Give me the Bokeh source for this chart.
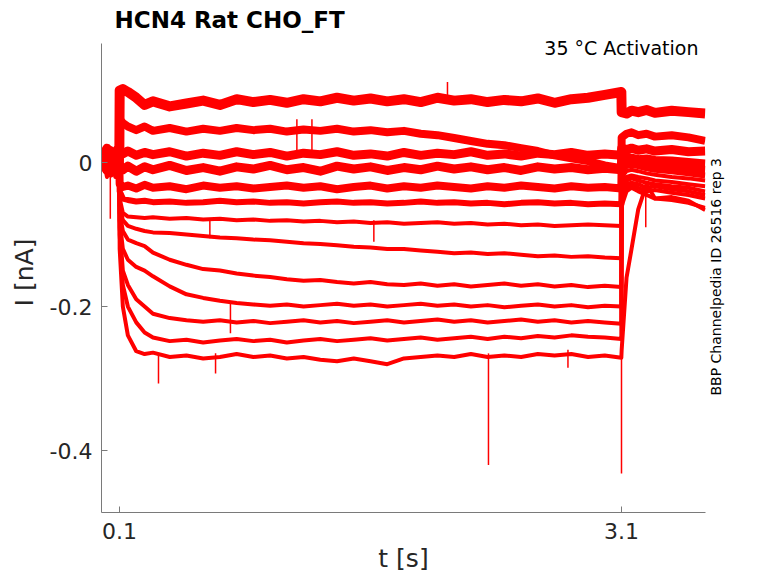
import math
from bokeh.plotting import figure
from bokeh.models import Range1d, FixedTicker, Label, LinearAxis, ColumnDataSource
from bokeh.embed import file_html
from bokeh.resources import INLINE

# time grid (s)
t = [0.0, 0.025, 0.05, 0.075, 0.099,
     0.101, 0.12, 0.15, 0.2, 0.25, 0.3,
     0.4, 0.5, 0.6, 0.7, 0.8, 0.9, 1.0, 1.1, 1.2, 1.3, 1.4, 1.5, 1.6, 1.7,
     1.8, 1.9, 2.0, 2.1, 2.2, 2.3, 2.4, 2.5, 2.6, 2.7, 2.8, 2.9, 3.0,
     3.099,
     3.101, 3.13, 3.16, 3.2, 3.25, 3.3, 3.4, 3.5, 3.6]

# current traces (nA), bottom to top
trace_01 = [0.01, -0.02, 0.0, 0.02, -0.01,
            -0.12, -0.20, -0.24, -0.262, -0.266, -0.264,
            -0.27, -0.268, -0.272, -0.27, -0.266, -0.27, -0.268, -0.272, -0.27, -0.274,
            -0.276, -0.272, -0.276, -0.28, -0.272, -0.27, -0.268, -0.27, -0.266, -0.27,
            -0.268, -0.27, -0.266, -0.268, -0.266, -0.27, -0.268,
            -0.271,
            -0.26, -0.16, -0.12, -0.065, -0.03, -0.05, -0.048, -0.053, -0.066]
trace_02 = [-0.01, 0.01, 0.02, -0.02, 0.0,
            -0.10, -0.17, -0.20, -0.222, -0.236, -0.243,
            -0.248, -0.246, -0.25, -0.247, -0.245, -0.248, -0.246, -0.25, -0.247, -0.245,
            -0.248, -0.246, -0.244, -0.247, -0.245, -0.243, -0.246, -0.244, -0.242, -0.245,
            -0.242, -0.244, -0.241, -0.243, -0.24, -0.242, -0.243,
            -0.245,
            -0.06, -0.04, -0.035, -0.04, -0.045, -0.05, -0.052, -0.056, -0.063]
trace_03 = [0.0, -0.01, 0.015, 0.0, 0.01,
            -0.09, -0.15, -0.17, -0.19, -0.2, -0.21,
            -0.216, -0.219, -0.221, -0.219, -0.222, -0.22, -0.223, -0.221, -0.219, -0.222,
            -0.22, -0.223, -0.221, -0.219, -0.222, -0.22, -0.218, -0.221, -0.219, -0.222,
            -0.22, -0.218, -0.221, -0.219, -0.222, -0.22, -0.222,
            -0.224,
            -0.05, -0.035, -0.03, -0.035, -0.04, -0.038, -0.042, -0.045, -0.05]
trace_04 = [0.01, 0.0, -0.015, 0.01, 0.0,
            -0.08, -0.12, -0.135, -0.145, -0.15, -0.158,
            -0.172, -0.183, -0.188, -0.192, -0.195, -0.197, -0.199, -0.197, -0.2, -0.198,
            -0.196, -0.199, -0.197, -0.2, -0.198, -0.196, -0.199, -0.197, -0.2, -0.198,
            -0.201, -0.199, -0.197, -0.2, -0.198, -0.201, -0.199,
            -0.2,
            -0.045, -0.03, -0.028, -0.03, -0.035, -0.033, -0.037, -0.04, -0.045]
trace_05 = [-0.005, 0.01, 0.0, -0.01, 0.015,
            -0.07, -0.095, -0.107, -0.112, -0.116, -0.125,
            -0.135, -0.142, -0.148, -0.15, -0.154, -0.157, -0.159, -0.162, -0.164, -0.163,
            -0.166, -0.168, -0.166, -0.169, -0.17, -0.168, -0.171, -0.169, -0.172, -0.17,
            -0.168, -0.171, -0.169, -0.172, -0.17, -0.173, -0.171,
            -0.173,
            -0.04, -0.025, -0.022, -0.025, -0.028, -0.03, -0.033, -0.035, -0.04]
trace_06 = [0.005, -0.01, 0.01, 0.0, -0.005,
            -0.06, -0.08, -0.088, -0.092, -0.095, -0.097,
            -0.098, -0.1, -0.102, -0.104, -0.105, -0.107, -0.108, -0.11, -0.112, -0.113,
            -0.115, -0.117, -0.118, -0.12, -0.12, -0.122, -0.124, -0.126, -0.125, -0.127,
            -0.126, -0.128, -0.13, -0.129, -0.131, -0.13, -0.132,
            -0.133,
            -0.03, -0.02, -0.018, -0.02, -0.022, -0.025, -0.027, -0.03, -0.033]
trace_07 = [0.0, 0.015, -0.01, 0.005, 0.0,
            -0.05, -0.07, -0.075, -0.076, -0.077, -0.076,
            -0.078, -0.077, -0.079, -0.078, -0.08, -0.079, -0.081, -0.08, -0.082, -0.081,
            -0.083, -0.082, -0.084, -0.083, -0.085, -0.084, -0.083, -0.085, -0.084, -0.086,
            -0.085, -0.087, -0.086, -0.088, -0.087, -0.086, -0.087,
            -0.088,
            -0.02, -0.012, -0.01, -0.012, -0.015, -0.017, -0.02, -0.022, -0.025]
trace_08 = [0.01, 0.0, 0.005, -0.01, 0.005,
            -0.04, -0.05, -0.052, -0.054, -0.053, -0.055,
            -0.054, -0.056, -0.055, -0.053, -0.055, -0.054, -0.056, -0.055, -0.057, -0.055,
            -0.054, -0.056, -0.055, -0.057, -0.056, -0.054, -0.056, -0.055, -0.057, -0.056,
            -0.058, -0.056, -0.055, -0.057, -0.056, -0.058, -0.057,
            -0.058,
            -0.01, -0.005, -0.003, -0.005, -0.008, -0.01, -0.012, -0.015, -0.018]
trace_09 = [-0.01, 0.005, -0.015, 0.01, -0.005,
            -0.03, -0.034, -0.032, -0.036, -0.031, -0.035,
            -0.033, -0.037, -0.032, -0.035, -0.033, -0.036, -0.034, -0.032, -0.035, -0.033,
            -0.037, -0.034, -0.032, -0.036, -0.033, -0.035, -0.032, -0.034, -0.036, -0.033,
            -0.035, -0.032, -0.034, -0.036, -0.033, -0.035, -0.034,
            -0.036,
            0.0, 0.005, 0.002, 0.0, -0.003, -0.005, -0.006, -0.008, -0.01]
trace_10 = [0.0, -0.01, 0.01, -0.005, 0.005,
            -0.01, -0.01, -0.005, -0.012, -0.006, -0.01,
            -0.004, -0.011, -0.007, -0.012, -0.006, -0.009, -0.004, -0.01, -0.007, -0.012,
            -0.005, -0.009, -0.006, -0.011, -0.007, -0.01, -0.005, -0.009, -0.006, -0.01,
            -0.007, -0.011, -0.006, -0.009, -0.007, -0.01, -0.008,
            -0.01,
            0.005, 0.008, 0.006, 0.004, 0.005, 0.003, 0.002, 0.0, -0.002]
trace_11 = [0.01, 0.02, 0.0, 0.015, 0.005,
            0.015, 0.012, 0.016, 0.01, 0.014, 0.011,
            0.015, 0.009, 0.013, 0.01, 0.015, 0.011, 0.014, 0.009, 0.013, 0.011,
            0.015, 0.01, 0.012, 0.009, 0.014, 0.01, 0.013, 0.011, 0.015, 0.01,
            0.012, 0.009, 0.013, 0.011, 0.014, 0.01, 0.012,
            0.01,
            0.02, 0.018, 0.02, 0.017, 0.019, 0.016, 0.018, 0.015, 0.016]
trace_12 = [0.0, 0.01, -0.005, 0.01, 0.0,
            0.06, 0.055, 0.05, 0.045, 0.05, 0.044,
            0.048, 0.043, 0.047, 0.044, 0.048, 0.045, 0.047, 0.043, 0.046, 0.044,
            0.047, 0.043, 0.045, 0.042, 0.044, 0.04, 0.038, 0.034, 0.03, 0.026,
            0.024, 0.02, 0.016, 0.01, 0.006, 0.002, -0.004,
            -0.008,
            0.035, 0.04, 0.042, 0.038, 0.04, 0.036, 0.038, 0.035, 0.03]
trace_13 = [0.005, -0.01, 0.015, 0.0, 0.01,
            0.1, 0.102, 0.098, 0.09, 0.08, 0.085,
            0.078, 0.082, 0.086, 0.08, 0.088, 0.084, 0.087, 0.083, 0.088, 0.085,
            0.09, 0.086, 0.089, 0.085, 0.088, 0.084, 0.09, 0.086, 0.088, 0.084,
            0.087, 0.085, 0.089, 0.083, 0.088, 0.09, 0.094,
            0.098,
            0.07, 0.068, 0.072, 0.07, 0.073, 0.069, 0.072, 0.07, 0.068]

traces = [trace_01, trace_02, trace_03, trace_04, trace_05, trace_06, trace_07,
          trace_08, trace_09, trace_10, trace_11, trace_12, trace_13]

# single-sample spikes
spike_t = [0.045, 0.333, 0.64, 0.674, 0.763, 1.16, 1.25, 1.62, 2.06, 2.305, 2.78, 3.1, 3.245]
spike_base = [-0.01, -0.265, -0.08, -0.265, -0.196, 0.06, 0.06, -0.08, 0.09, -0.265, -0.26, -0.27, -0.03]
spike_peak = [-0.078, -0.307, -0.105, -0.293, -0.237, 0.017, 0.015, -0.11, 0.112, -0.42, -0.285, -0.432, -0.09]

x_ticks = [0.1, 3.1]
y_ticks = [-0.4, -0.2, 0]

# band thickness of each trace (noise)
widths = [4, 4, 4, 4, 4, 4, 4, 6, 8, 9, 9, 8, 10]

# axis limits; the frame reaches a bit above the y axis to hold the top-right note
X0, X1 = -0.0076, 3.602
Y0, Y1 = -0.486, 0.165
YT = 0.1806

p = figure(width=770, height=575, x_range=Range1d(X0, X1), y_range=Range1d(Y0, YT),
           output_backend="svg", toolbar_location=None,
           min_border_left=101, min_border_right=65, min_border_top=32, min_border_bottom=63)
p.grid.visible = False
p.outline_line_color = None

p.title.text = "HCN4  Rat  CHO_FT"
p.title.text_font = "DejaVu Sans"
p.title.text_font_size = "23px"
p.title.text_font_style = "bold"
p.title.text_color = "#000000"
p.title.offset = 13
p.title.standoff = 0

red = "#ff0000"
for tr, w in zip(traces, widths):
    p.line(t, tr, line_color=red, line_width=w, line_join="round")

spikes = ColumnDataSource(data=dict(t=spike_t, base=spike_base, peak=spike_peak))
p.segment(x0="t", y0="base", x1="t", y1="peak", source=spikes, line_color=red, line_width=1.5)

p.xaxis.ticker = FixedTicker(ticks=x_ticks)
p.xaxis.major_label_overrides = {0.1: "0.1", 3.1: "3.1"}
p.yaxis.ticker = FixedTicker(ticks=y_ticks)
p.yaxis.major_label_overrides = {-0.4: "-0.4", -0.2: "-0.2", 0: "0"}
p.yaxis.bounds = (Y0, Y1)
p.xaxis.axis_label = "t [s]"
p.yaxis.axis_label = "I [nA]"
for ax in p.axis:
    ax.axis_line_color = "#7a7a7a"
    ax.major_tick_line_color = "#7a7a7a"
    ax.minor_tick_line_color = None
    ax.major_tick_in = 6
    ax.major_tick_out = 0
    ax.major_label_text_font = "DejaVu Sans"
    ax.major_label_text_font_size = "22px"
    ax.major_label_text_color = "#262626"
    ax.axis_label_text_font = "DejaVu Sans"
    ax.axis_label_text_font_size = "25px"
    ax.axis_label_text_font_style = "normal"
    ax.axis_label_text_color = "#262626"
p.xaxis.major_label_standoff = 10
p.xaxis.axis_label_standoff = 2
p.yaxis.major_label_standoff = 9
p.yaxis.axis_label_standoff = 8

SY = 720.0   # px per nA


def px(xp):
    return X0 + (xp - 101) / (502 / 3)


def py(yp):
    return YT - (yp - 32) / SY


# source note along the right edge; the rotated label starts at its tick
note_y = py(395)
note = LinearAxis(ticker=FixedTicker(ticks=[note_y]), axis_line_color=None,
                  major_tick_line_color=None, minor_tick_line_color=None,
                  major_label_overrides={note_y: "BBP Channelpedia ID 26516 rep 3"},
                  major_label_text_font="DejaVu Sans", major_label_text_font_size="14px",
                  major_label_text_color="#000000", major_label_orientation=math.pi / 2,
                  major_label_standoff=5)
p.add_layout(note, "right")

p.add_layout(Label(x=px(704), y=py(47), text="35 °C  Activation", text_font="DejaVu Sans",
                   text_font_size="19px", text_color="#000000", text_align="right",
                   text_baseline="alphabetic"))

open("out.html", "w").write(file_html(p, INLINE))
